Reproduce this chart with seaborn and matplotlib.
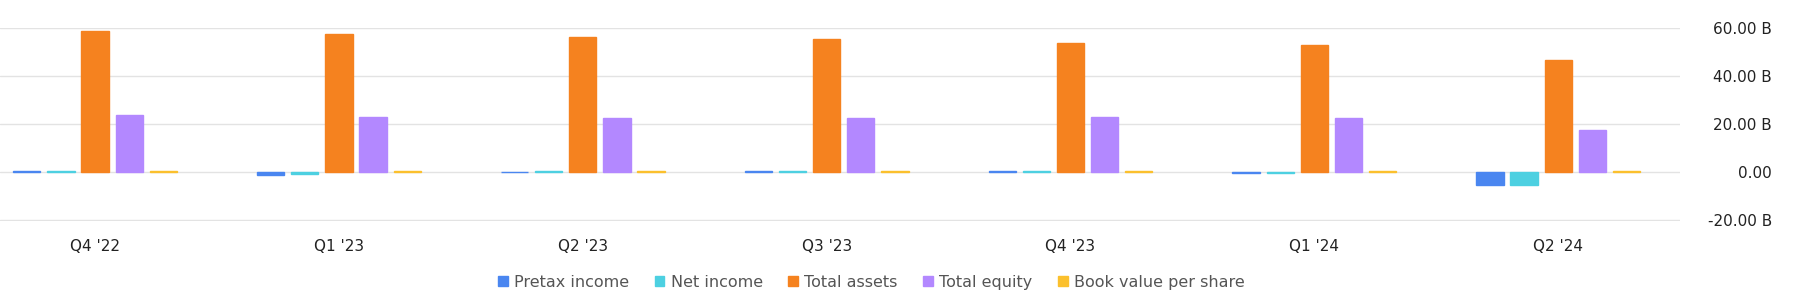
import pandas as pd
import matplotlib.pyplot as plt
import seaborn as sns
from matplotlib.ticker import FuncFormatter

quarters = ["Q4 '22", "Q1 '23", "Q2 '23", "Q3 '23", "Q4 '23", "Q1 '24", "Q2 '24"]
metrics = ['Pretax income', 'Net income', 'Total assets', 'Total equity', 'Book value per share']

# values in billions
pretax_income = [0.4, -1.3, 0.15, 0.4, 0.4, -0.3, -5.6]
net_income = [0.4, -0.7, 0.4, 0.4, 0.35, -0.3, -5.3]
total_assets = [58.5, 57.4, 56.3, 55.4, 53.7, 52.9, 46.7]
total_equity = [23.7, 22.8, 22.5, 22.5, 22.9, 22.5, 17.5]
book_value_ps = [0.35, 0.35, 0.35, 0.35, 0.35, 0.35, 0.35]

colors = ['#4a86f0', '#4dd0e1', '#f5821f', '#b388ff', '#fbc02d']

series = [pretax_income, net_income, total_assets, total_equity, book_value_ps]
rows = []
for name, vals in zip(metrics, series):
    for q, v in zip(quarters, vals):
        rows.append({'quarter': q, 'metric': name, 'value': v})
df = pd.DataFrame(rows)

sns.set_style('white')
plt.rcParams['font.family'] = ['DejaVu Sans']

fig = plt.figure(figsize=(17.97, 3.05), dpi=100)
ax = fig.add_axes([0.0, 0.276, 0.935, 0.633])

sns.barplot(data=df, x='quarter', y='value', hue='metric', hue_order=metrics,
            palette=colors, saturation=1, width=0.7, gap=0.2, ax=ax, zorder=3)

# thin outline in the bar colour so tiny values stay visible
for p in ax.patches:
    p.set_edgecolor(p.get_facecolor())
    p.set_linewidth(1.0)

ax.set_xlim(-0.39, 6.5)
ax.set_ylim(-20.3, 60)
ax.set_yticks([-20, 0, 20, 40, 60])
ax.yaxis.set_major_formatter(FuncFormatter(lambda v, p: '0.00' if v == 0 else f'{v:.2f} B'))
ax.yaxis.tick_right()
ax.tick_params(axis='y', length=0, pad=66, labelsize=11, labelcolor='#222222')
for lab in ax.get_yticklabels():
    lab.set_horizontalalignment('right')
ax.tick_params(axis='x', length=0, pad=13, labelsize=11, labelcolor='#222222')
ax.grid(axis='y', color='#e3e3e3', linewidth=1, zorder=0)
for s in ax.spines.values():
    s.set_visible(False)
ax.set_xlabel('')
ax.set_ylabel('')

handles, labels = ax.get_legend_handles_labels()
ax.get_legend().remove()
fig.legend(handles, labels, loc='center', bbox_to_anchor=(0.485, 0.075), ncol=5,
           frameon=False, handlelength=0.6, handleheight=0.6, handletextpad=0.4,
           columnspacing=1.6, fontsize=11.5, labelcolor='#555555')

plt.savefig('out.png', dpi=100)
plt.close()
